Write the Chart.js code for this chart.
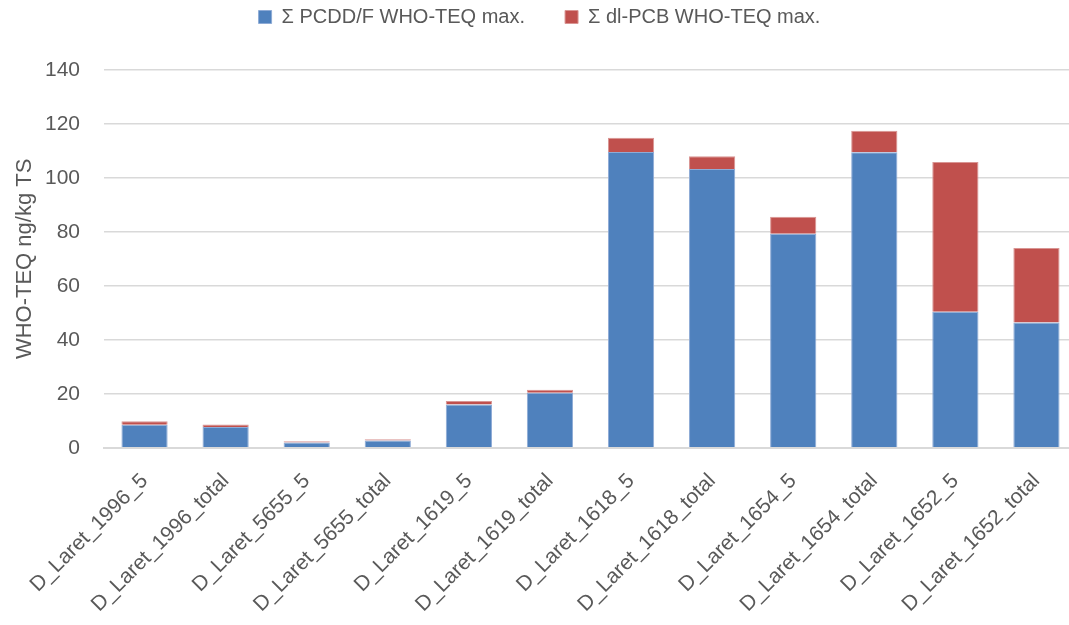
<!DOCTYPE html>
<html>
<head>
<meta charset="utf-8">
<script src="https://cdn.jsdelivr.net/npm/chart.js@4/dist/chart.umd.min.js"></script>
<style>
    html, body { margin: 0; padding: 0; background: #fff; overflow: hidden; }
    #wrap { width: 1077px; height: 625px; }
</style>
</head>
<body>
<div id="wrap"><canvas id="grafik"></canvas></div>
<script>
// data
const kategori = [
    'D_Laret_1996_5', 'D_Laret_1996_total', 'D_Laret_5655_5', 'D_Laret_5655_total',
    'D_Laret_1619_5', 'D_Laret_1619_total', 'D_Laret_1618_5', 'D_Laret_1618_total',
    'D_Laret_1654_5', 'D_Laret_1654_total', 'D_Laret_1652_5', 'D_Laret_1652_total'
];
const nilaiPcdd = [8.5, 7.7, 1.9, 2.7, 16.0, 20.4, 109.6, 103.3, 79.3, 109.5, 50.4, 46.4];
const nilaiPcb = [1.3, 0.9, 0.5, 0.4, 1.3, 1.1, 5.3, 4.7, 6.3, 8.0, 55.5, 27.6];
const tickY = [0, 20, 40, 60, 80, 100, 120, 140];

const warnaTeks = '#595959';
const namaFont = "'Liberation Sans', Arial, sans-serif";

// atur tinggi legend dan geser gambarnya ke atas
const legendMargin = {
    id: 'legendMargin',
    beforeInit: function (chart) {
        const fitAsli = chart.legend.fit;
        chart.legend.fit = function () {
            fitAsli.bind(chart.legend)();
            this.height -= 4;
        };
        const drawAsli = chart.legend.draw;
        chart.legend.draw = function () {
            const ctx = chart.ctx;
            ctx.save();
            ctx.translate(0, -37);
            drawAsli.apply(chart.legend, arguments);
            ctx.restore();
        };
    }
};

new Chart('grafik', {
    type: 'bar',
    data: {
        labels: kategori,
        datasets: [{
            label: 'Σ PCDD/F WHO-TEQ max.',
            data: nilaiPcdd,
            backgroundColor: '#4F81BD',
            borderColor: '#8eabd6',
            borderWidth: 1
        }, {
            label: 'Σ dl-PCB WHO-TEQ max.',
            data: nilaiPcb,
            backgroundColor: '#C0504D',
            borderColor: '#d99593',
            borderWidth: 1
        }]
    },
    options: {
        responsive: true,
        maintainAspectRatio: false,
        animation: false,
        layout: {
            padding: { left: 2, right: 0, top: 4, bottom: 0 }
        },
        datasets: {
            bar: { categoryPercentage: 1, barPercentage: 0.57 }
        },
        plugins: {
            tooltip: { enabled: false },
            legend: {
                position: 'top',
                labels: {
                    boxWidth: 13,
                    boxHeight: 13,
                    padding: 40,
                    color: warnaTeks,
                    font: { family: namaFont, size: 20 }
                }
            }
        },
        scales: {
            x: {
                stacked: true,
                afterFit: function (axis) {
                    axis.height -= 5;
                },
                grid: { display: false },
                border: { display: true, color: '#d9d9d9', width: 2 },
                ticks: {
                    minRotation: 45,
                    maxRotation: 45,
                    autoSkip: false,
                    padding: 13,
                    color: warnaTeks,
                    font: { family: namaFont, size: 21 }
                }
            },
            y: {
                stacked: true,
                min: 0,
                max: 140,
                afterBuildTicks: function (axis) {
                    axis.ticks = tickY.map(function (v) { return { value: v }; });
                },
                afterFit: function (axis) {
                    axis.width = 102;
                },
                grid: { color: '#d9d9d9', lineWidth: 1.5, drawTicks: false },
                border: { display: false },
                ticks: {
                    padding: 24,
                    color: warnaTeks,
                    font: { family: namaFont, size: 21 }
                },
                title: {
                    display: true,
                    text: 'WHO-TEQ ng/kg TS',
                    color: warnaTeks,
                    padding: { top: 10, bottom: 0 },
                    font: { family: namaFont, size: 22 }
                }
            }
        }
    },
    plugins: [legendMargin]
});
</script>
</body>
</html>
